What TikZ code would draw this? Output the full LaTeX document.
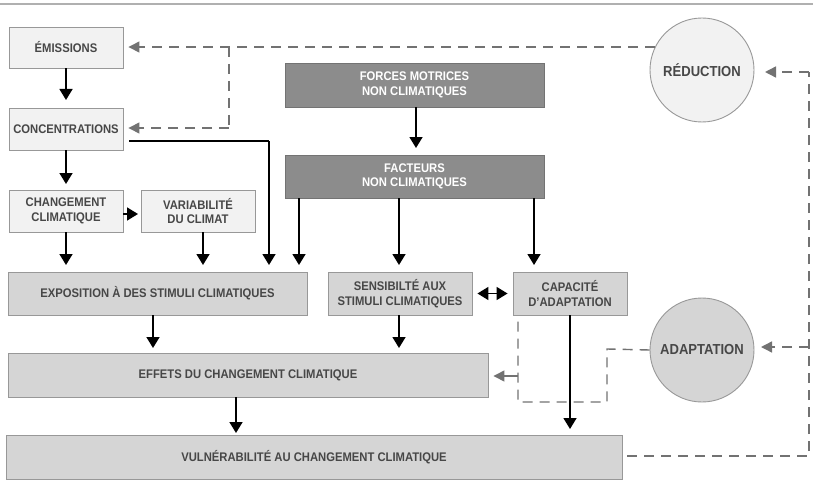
\documentclass[tikz,border=0pt]{standalone}
\usepackage{fontspec}
\setmainfont{Liberation Sans}[FakeStretch=0.9]
\usetikzlibrary{arrows.meta,calc}
\definecolor{txt}{HTML}{474747}
\definecolor{lightfill}{HTML}{F2F2F2}
\definecolor{midfill}{HTML}{D5D5D5}
\definecolor{darkfill}{HTML}{8C8C8C}
\definecolor{boxline}{HTML}{989898}
\definecolor{feedback}{HTML}{727272}
\definecolor{rule}{HTML}{B0B0B0}
\begin{document}
\begin{tikzpicture}[x=1pt,y=-1pt,
  boxtext/.style={font=\bfseries\fontsize{12.5}{14.5}\selectfont, align=center, inner sep=0pt},
  lbox/.style={boxtext, rectangle, draw=boxline, line width=0.9pt, fill=lightfill, text=txt},
  mbox/.style={boxtext, rectangle, draw=boxline, line width=0.9pt, fill=midfill, text=txt},
  dbox/.style={boxtext, rectangle, draw=gray!90!black, line width=0.9pt, fill=darkfill, text=white},
  disc/.style={circle, draw=boxline, line width=0.9pt, minimum size=104pt, inner sep=0pt,
    font=\bfseries\fontsize{14.5}{16}\selectfont, text=txt},
  flow/.style={line width=1.6pt, black, -{Triangle[length=11pt,width=13pt]}},
  flowboth/.style={line width=1.6pt, black, {Triangle[length=11pt,width=13pt]}-{Triangle[length=11pt,width=13pt]}},
  link/.style={line width=1.5pt, black},
  loop/.style={line width=1.4pt, feedback, dash pattern=on 10pt off 7pt},
  looparrow/.style={loop, -{Triangle[length=11pt,width=11pt]}},
]
\useasboundingbox (0,0) rectangle (813,500);

% top rule
\draw[rule, line width=2pt] (0,4.5) -- (813,4.5);

% climate chain
\node[lbox, minimum width=114pt, minimum height=41pt] (emi) at (66,47.5) {ÉMISSIONS};
\node[lbox, minimum width=114pt, minimum height=42pt] (conc) at (66,129) {CONCENTRATIONS};
\node[lbox, minimum width=114pt, minimum height=42pt] (chg) at (66,211) {CHANGEMENT\\CLIMATIQUE};
\node[lbox, minimum width=114pt, minimum height=42pt] (var) at (198,211) {VARIABILITÉ\\DU CLIMAT};

% non-climatic drivers
\node[dbox, minimum width=259pt, minimum height=44pt] (forces) at (414.5,85) {FORCES MOTRICES\\NON CLIMATIQUES};
\node[dbox, minimum width=259pt, minimum height=43pt] (fac) at (414.5,176.5) {FACTEURS\\NON CLIMATIQUES};

% exposure, sensitivity, capacity
\node[mbox, minimum width=299pt, minimum height=43pt] (exp) at (157.5,293.5) {EXPOSITION À DES STIMULI CLIMATIQUES};
\node[mbox, minimum width=144pt, minimum height=43pt] (sens) at (400,293.5) {SENSIBILTÉ AUX\\STIMULI CLIMATIQUES};
\node[mbox, minimum width=114pt, minimum height=43pt] (cap) at (570,293.5) {CAPACITÉ\\D’ADAPTATION};

% effects and vulnerability
\node[mbox, minimum width=480pt, minimum height=44pt] (eff) at (248,375) {EFFETS DU CHANGEMENT CLIMATIQUE};
\node[mbox, minimum width=616pt, minimum height=44pt] (vul) at (314,457) {VULNÉRABILITÉ AU CHANGEMENT CLIMATIQUE};

% responses
\node[disc, fill=lightfill] (red) at (702,70) {RÉDUCTION};
\node[disc, fill=midfill] (ada) at (702,350) {ADAPTATION};

% arrow tips and bends
\coordinate (tConc) at (66,100);
\coordinate (tChg) at (66,184);
\coordinate (tVar) at (138,214);
\coordinate (tExp1) at (66,265);
\coordinate (tExp2) at (203,265);
\coordinate (cBend) at (269,141);
\coordinate (tExp3) at (269,265);
\coordinate (tFac) at (416,148);
\coordinate (tExp4) at (299,265);
\coordinate (tSens) at (399,265);
\coordinate (tCap) at (534,265);
\coordinate (tEff1) at (153,348);
\coordinate (tEff2) at (399,348);
\coordinate (tVul1) at (236,433);
\coordinate (tVul2) at (570,429);

% main flows
\draw[flow] (emi.south) -- (tConc);
\draw[flow] (conc.south) -- (tChg);
\draw[flow] (chg.east |- tVar) -- (tVar);
\draw[flow] (chg.south) -- (tExp1);
\draw[flow] (var.south -| tExp2) -- (tExp2);
\draw[link] ($(conc.east |- cBend)+(6,0)$) -- (cBend);
\draw[flow] (cBend) -- (tExp3);
\draw[flow] (forces.south -| tFac) -- (tFac);
\draw[flow] (fac.south -| tExp4) -- (tExp4);
\draw[flow] (fac.south -| tSens) -- (tSens);
\draw[flow] (fac.south -| tCap) -- (tCap);
\draw[flowboth] ($(sens.east)+(5,0)$) -- ($(cap.west)+(-5,0)$);
\draw[flow] (exp.south -| tEff1) -- (tEff1);
\draw[flow] (sens.south -| tEff2) -- (tEff2);
\draw[flow] (eff.south -| tVul1) -- (tVul1);
\draw[flow] (cap.south) -- (tVul2);

% mitigation feedback
\coordinate (rSplit) at (229,47);
\coordinate (rDown) at (229,128);
\draw[looparrow] (red.154) -- ($(emi.east |- red.154)+(5,0)$);
\draw[loop] (rSplit) -- (rDown);
\draw[looparrow] (rDown) -- ($(conc.east |- rDown)+(5,0)$);

% vulnerability feedback to responses
\coordinate (vOut) at (627,456);
\coordinate (vCorner) at (809,456);
\coordinate (vTop) at (809,72);
\coordinate (vMid) at (809,347);
\draw[loop] (vOut) -- (vCorner) -- (vTop);
\draw[looparrow] (vTop) -- (765,72);
\draw[looparrow] (vMid) -- (761,347);

% adaptation acting on capacity and effects
\coordinate (a1) at (607,349);
\coordinate (a2) at (607,402);
\coordinate (a3) at (518,402);
\coordinate (a4) at (518,320);
\coordinate (aEff) at (518,376);
\draw[loop] (ada.west) -- (a1) -- (a2) -- (a3) -- (a4);
\draw[line width=1.4pt, feedback, -{Triangle[length=11pt,width=11pt]}] (aEff) -- ($(eff.east |- aEff)+(5,0)$);
\end{tikzpicture}
\end{document}
